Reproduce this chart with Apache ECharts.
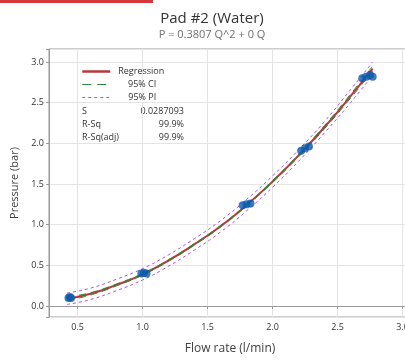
<!DOCTYPE html>
<html>
<head>
<meta charset="utf-8">
<script src="https://cdn.jsdelivr.net/npm/echarts@6/dist/echarts.min.js"></script>
<style>
html,body{margin:0;padding:0;background:#fff;}
#main{width:405px;height:361px;}
</style>
</head>
<body>
<div id="main"></div>
<script>
// measured points (flow rate, pressure)
var flowQ = [0.43, 0.44, 0.45, 0.99, 1.01, 1.03, 1.77, 1.80, 1.83, 2.22, 2.25, 2.28, 2.69, 2.72, 2.75, 2.77];
var presP = [0.10, 0.11, 0.10, 0.40, 0.41, 0.40, 1.24, 1.25, 1.26, 1.91, 1.94, 1.96, 2.80, 2.82, 2.84, 2.82];

// fitted curve
var fitQ   = [0.42, 0.60, 0.80, 1.00, 1.20, 1.40, 1.60, 1.80, 2.00, 2.20, 2.40, 2.60, 2.77];
var fitP   = [0.09, 0.15, 0.26, 0.39, 0.56, 0.76, 0.98, 1.24, 1.53, 1.85, 2.20, 2.58, 2.92];
var ciLow  = [0.07, 0.135, 0.248, 0.38, 0.55, 0.75, 0.97, 1.23, 1.518, 1.835, 2.18, 2.555, 2.89];
var ciUp   = [0.11, 0.165, 0.272, 0.40, 0.57, 0.77, 0.99, 1.25, 1.542, 1.865, 2.22, 2.605, 2.95];
var piLow  = [0.02, 0.08, 0.19, 0.32, 0.49, 0.69, 0.91, 1.17, 1.46, 1.78, 2.13, 2.50, 2.84];
var piUp   = [0.16, 0.22, 0.33, 0.46, 0.63, 0.83, 1.05, 1.31, 1.60, 1.92, 2.27, 2.66, 3.00];

var statNames  = ['S', 'R-Sq', 'R-Sq(adj)'];
var statValues = ['0.0287093', '99.9%', '99.9%'];

function pairs(xs, ys){
	var out = [];
	for(var i=0;i<xs.length;i++){
		out.push([xs[i], ys[i]]);
	}
	return out;
}

function halfLabel(v){
	if(Math.abs(v*2 - Math.round(v*2)) < 1e-6){
		return v.toFixed(1);
	}
	return '';
}

var FONT = "'Open Sans', 'DejaVu Sans', sans-serif";
var chart = echarts.init(document.getElementById('main'));

var graphics = [
	{type:'rect', left:0, top:0, shape:{width:153, height:3}, style:{fill:'#d8363d'}, silent:true}
];
for(var k=0;k<statNames.length;k++){
	graphics.push({type:'text', left:82, top:107 + k*13,
		style:{text:statNames[k], fill:'#333', font:'9px ' + FONT}});
	graphics.push({type:'text', right:405-184, top:107 + k*13,
		style:{text:statValues[k], fill:'#333', font:'9px ' + FONT, align:'right'}});
}

var option = {
	animation:false,
	textStyle:{fontFamily:FONT},
	title:{
		text:'Pad #2 (Water)',
		subtext:'P = 0.3807 Q^2 + 0 Q',
		left:207, top:6, textAlign:'center', itemGap:3,
		textStyle:{fontSize:15, fontWeight:'normal', color:'#333', fontFamily:FONT},
		subtextStyle:{fontSize:11, color:'#707070', fontFamily:FONT}
	},
	legend:{
		data:[
			{name:'Regression', lineStyle:{width:2.5}},
			{name:'95% CI', lineStyle:{width:1.2, type:[9,6]}},
			{name:'95% PI', lineStyle:{width:1.2, type:[3,3]}}
		],
		orient:'vertical', left:76, top:62,
		itemWidth:28, itemHeight:8, itemGap:4,
		selectedMode:false,
		itemStyle:{opacity:0},
		formatter:function(name){
			if(name == 'Regression'){
				return '{l|' + name + '}';
			}
			return '{r|' + name + '}';
		},
		textStyle:{fontSize:9, color:'#333', fontFamily:FONT,
			rich:{
				l:{fontSize:9, color:'#333', padding:[0,0,0,3], fontFamily:FONT},
				r:{fontSize:9, color:'#333', width:41, align:'right', fontFamily:FONT}
			}}
	},
	grid:{left:49, top:49, right:-6, bottom:44, show:true, borderColor:'#9a9a9a', borderWidth:1,
		outerBoundsMode:'none'},
	xAxis:{
		type:'value', min:0.28, max:3.065,
		name:'Flow rate (l/min)', nameLocation:'middle', nameGap:26,
		nameTextStyle:{fontSize:12, color:'#404040', fontFamily:FONT},
		axisLine:{lineStyle:{color:'#9a9a9a'}},
		axisTick:{length:3, lineStyle:{color:'#9a9a9a'}},
		axisLabel:{fontSize:9, color:'#333', margin:6, formatter:halfLabel},
		splitLine:{lineStyle:{color:'#e4e4e4'}}
	},
	yAxis:{
		type:'value', min:-0.135, max:3.16,
		name:'Pressure (bar)', nameLocation:'middle', nameGap:26,
		nameTextStyle:{fontSize:11, color:'#404040', fontFamily:FONT},
		axisLine:{show:true, lineStyle:{color:'#9a9a9a'}},
		axisTick:{show:true, length:3, lineStyle:{color:'#9a9a9a'}},
		axisLabel:{fontSize:9, color:'#333', margin:5, formatter:halfLabel},
		splitLine:{lineStyle:{color:'#e4e4e4'}}
	},
	graphic:graphics,
	series:[
		{name:'95% PI', type:'line', data:pairs(fitQ, piUp), smooth:true, symbol:'none',
			itemStyle:{color:'#b24fe6'}, lineStyle:{color:'#b24fe6', width:1, type:[3,3]}, z:2},
		{name:'95% PI', type:'line', data:pairs(fitQ, piLow), smooth:true, symbol:'none',
			itemStyle:{color:'#b24fe6'}, lineStyle:{color:'#b24fe6', width:1, type:[3,3]}, z:2},
		{name:'Regression', type:'line', data:pairs(fitQ, fitP), smooth:true, symbol:'none',
			itemStyle:{color:'#b8383a'}, lineStyle:{color:'#b8383a', width:2}, z:3},
		{name:'95% CI', type:'line', data:pairs(fitQ, ciUp), smooth:true, symbol:'none',
			itemStyle:{color:'#2f8a3a'}, lineStyle:{color:'#2f8a3a', width:1, type:[7,5]}, z:4},
		{name:'95% CI', type:'line', data:pairs(fitQ, ciLow), smooth:true, symbol:'none',
			itemStyle:{color:'#2f8a3a'}, lineStyle:{color:'#2f8a3a', width:1, type:[7,5]}, z:4},
		{name:'Data', type:'scatter', data:pairs(flowQ, presP), symbol:'circle', symbolSize:8,
			itemStyle:{color:'#0d5bab'}, z:5}
	]
};
chart.setOption(option);
</script>
</body>
</html>
